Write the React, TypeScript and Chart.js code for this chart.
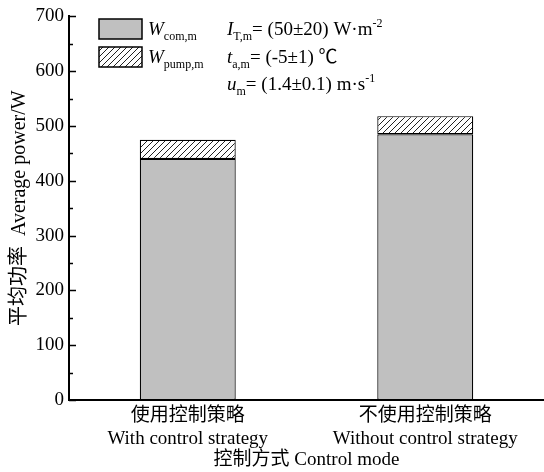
import React, { useEffect, useRef } from 'react';
import { Chart, registerables } from 'chart.js';
Chart.register(...registerables);

const categories: string[][] = [
  ['使用控制策略', 'With control strategy'],
  ['不使用控制策略', 'Without control strategy'],
];
const comValues: number[] = [440, 485];
const pumpValues: number[] = [35, 33];
const yMin = 0;
const yMax = 700;
const yStep = 100;
const yMinorStep = 50;
const yTitle = '平均功率  Average power/W';
const xTitle = '控制方式 Control mode';

type Seg = { t: string; it?: boolean; sub?: boolean; sup?: boolean };
const legendItems: Seg[][] = [
  [{ t: 'W', it: true }, { t: 'com,m', sub: true }],
  [{ t: 'W', it: true }, { t: 'pump,m', sub: true }],
];
const conditionLines: Seg[][] = [
  [{ t: 'I', it: true }, { t: 'T,m', sub: true }, { t: '= (50±20) W·m' }, { t: '-2', sup: true }],
  [{ t: 't', it: true }, { t: 'a,m', sub: true }, { t: '= (-5±1) ℃' }],
  [{ t: 'u', it: true }, { t: 'm', sub: true }, { t: '= (1.4±0.1) m·s' }, { t: '-1', sup: true }],
];

const FONT = "'Liberation Serif', 'Noto Sans CJK SC', serif";
const GREY = '#c0c0c0';

function makeHatch(): CanvasPattern | string {
  const c = document.createElement('canvas');
  const s = 6;
  c.width = s;
  c.height = s;
  const g = c.getContext('2d');
  if (!g) return '#fff';
  g.fillStyle = '#fff';
  g.fillRect(0, 0, s, s);
  g.strokeStyle = '#222';
  g.lineWidth = 1;
  g.beginPath();
  g.moveTo(0, s);
  g.lineTo(s, 0);
  g.moveTo(-1, 1);
  g.lineTo(1, -1);
  g.moveTo(s - 1, s + 1);
  g.lineTo(s + 1, s - 1);
  g.stroke();
  return g.createPattern(c, 'repeat') || '#fff';
}

function drawRich(ctx: CanvasRenderingContext2D, x: number, y: number, segs: Seg[], size: number) {
  let cx = x;
  for (const s of segs) {
    const sz = s.sub || s.sup ? Math.round(size * 0.62) : size;
    ctx.font = `${s.it ? 'italic ' : ''}${sz}px ${FONT}`;
    const dy = s.sub ? size * 0.25 : s.sup ? -size * 0.4 : 0;
    ctx.fillText(s.t, cx, y + dy);
    cx += ctx.measureText(s.t).width;
  }
}

export default function App() {
  const ref = useRef<HTMLCanvasElement>(null);
  useEffect(() => {
    if (!ref.current) return;
    const hatch = makeHatch();

    const decor = {
      id: 'decor',
      afterDraw(chart: any) {
        const ctx: CanvasRenderingContext2D = chart.ctx;
        const y = chart.scales.y;
        const area = chart.chartArea;
        ctx.save();
        // inward ticks on y axis
        ctx.strokeStyle = '#000';
        ctx.lineWidth = 1.5;
        for (let v = yMin; v <= yMax; v += yMinorStep) {
          const py = Math.round(y.getPixelForValue(v)) + 0.5;
          const len = v % yStep === 0 ? 7 : 4;
          ctx.beginPath();
          ctx.moveTo(area.left, py);
          ctx.lineTo(area.left + len, py);
          ctx.stroke();
        }
        // legend
        const ds = chart.data.datasets;
        const boxX = 99, boxW = 43, boxH = 20;
        const boxYs = [19, 47];
        ctx.lineWidth = 1.5;
        for (let i = 0; i < legendItems.length; i++) {
          ctx.fillStyle = ds[i].backgroundColor;
          ctx.fillRect(boxX, boxYs[i], boxW, boxH);
          ctx.strokeStyle = '#000';
          ctx.strokeRect(boxX, boxYs[i], boxW, boxH);
          ctx.fillStyle = '#000';
          ctx.textBaseline = 'alphabetic';
          ctx.textAlign = 'left';
          drawRich(ctx, 148, boxYs[i] + 16, legendItems[i], 19);
        }
        // conditions
        const baseYs = [35, 63, 90];
        for (let i = 0; i < conditionLines.length; i++) {
          drawRich(ctx, 227, baseYs[i], conditionLines[i], 19);
        }
        ctx.restore();
      },
    };

    const chart = new Chart(ref.current, {
      type: 'bar',
      data: {
        labels: categories,
        datasets: [
          {
            label: 'W com,m',
            data: comValues,
            backgroundColor: GREY,
            borderColor: '#000',
            borderWidth: 1.2,
            borderSkipped: false,
          },
          {
            label: 'W pump,m',
            data: pumpValues,
            backgroundColor: hatch as any,
            borderColor: '#000',
            borderWidth: 1.2,
            borderSkipped: false,
          },
        ],
      },
      options: {
        responsive: false,
        animation: false,
        layout: { padding: { top: 16, right: 0, left: 0, bottom: 0 } },
        datasets: { bar: { barPercentage: 0.404, categoryPercentage: 1 } },
        plugins: {
          legend: { display: false },
          tooltip: { enabled: false },
        },
        scales: {
          x: {
            stacked: true,
            grid: { display: false, drawTicks: false },
            border: { display: true, color: '#000', width: 2 },
            ticks: {
              color: '#000',
              padding: 5,
              font: { family: FONT, size: 19, lineHeight: 1.2 },
            },
            title: {
              display: true,
              text: xTitle,
              color: '#000',
              font: { family: FONT, size: 19, lineHeight: 1.2 },
              padding: { top: 0, bottom: 1 },
            },
            afterFit: (s: any) => {
              s.height = 72;
            },
          },
          y: {
            stacked: true,
            min: yMin,
            max: yMax,
            grid: { display: false, drawTicks: false },
            border: { display: true, color: '#000', width: 2 },
            ticks: {
              stepSize: yStep,
              color: '#000',
              padding: 5,
              font: { family: FONT, size: 19 },
            },
            title: {
              display: true,
              text: yTitle,
              color: '#000',
              font: { family: FONT, size: 20, lineHeight: 1.2 },
              padding: { top: 8, bottom: 0 },
            },
            afterFit: (s: any) => {
              s.width = 69;
            },
          },
        },
      },
      plugins: [decor],
    });
    return () => chart.destroy();
  }, []);

  return (
    <div style={{ position: 'absolute', left: 0, top: 0, width: 544, height: 472, background: '#fff' }}>
      <canvas ref={ref} width={544} height={472} />
    </div>
  );
}
